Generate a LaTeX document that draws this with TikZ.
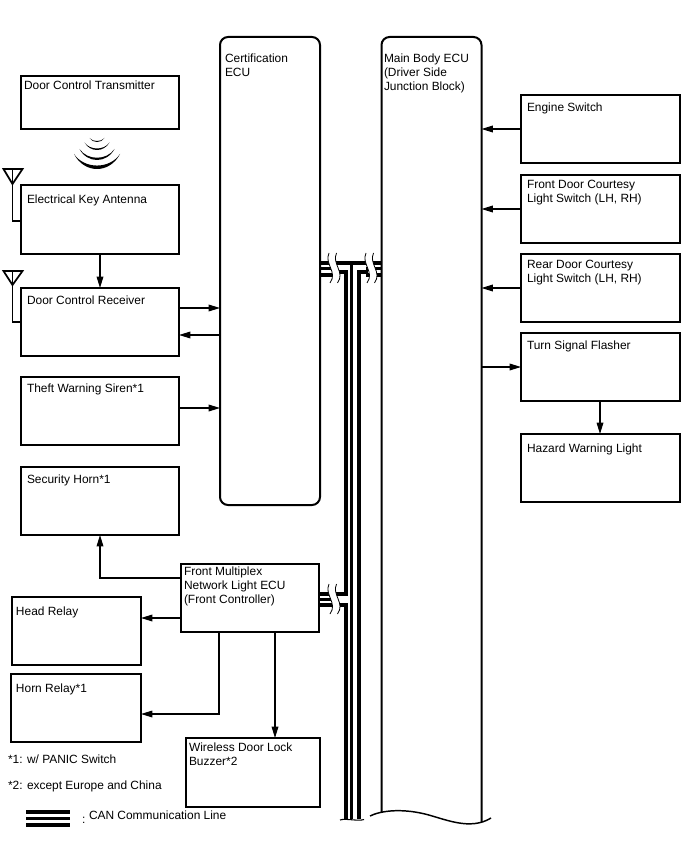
\documentclass[tikz,border=0pt]{standalone}
\usepackage{fontspec}
\setmainfont{Liberation Sans}
\usetikzlibrary{arrows.meta}
\def\pxu{0.75pt}
\tikzset{
  panel/.style={draw=black,line width=1.5pt,fill=white,rectangle,inner sep=0pt,outer sep=0pt,anchor=north west},
  tag/.style={inner sep=0pt,outer sep=0pt,anchor=north west,align=left,yshift=-1.5pt,font=\fontsize{8.95pt}{10.6pt}\selectfont},
  link/.style={line width=0.9pt,-{Triangle[length=8.5pt,width=5pt]}},
  can/.style={line width=3pt,line cap=butt,line join=miter},
  canthin/.style={line width=2pt,line cap=butt},
  aerial/.style={draw=black,line width=1.3pt,line join=miter}
}
% box: name, x0, y0, x1, y1, text x, text top y, text
\newcommand{\unitbox}[8]{%
  \node[panel,minimum width={(#4-#2)*\pxu},minimum height={(#5-#3)*\pxu}] (#1) at (#2,#3) {};
  \node[tag] (#1-t) at (#6,#7) {#8};
}
% paired wavy break across the bus at horizontal position x, vertical centre y
\newcommand{\busbreak}[2]{%
  \begin{scope}[shift={(#1,#2)}]
    \fill[white] (1,-15) .. controls (-4,-4) and (10,4) .. (2,15) -- (9.5,15) .. controls (17.5,4) and (3.5,-4) .. (8.5,-15) -- cycle;
    \draw[line width=0.6pt] (1,-15) .. controls (-4,-4) and (10,4) .. (2,15);
    \draw[line width=0.6pt] (8.5,-15) .. controls (3.5,-4) and (17.5,4) .. (9.5,15);
  \end{scope}
}
% crescent of the radio symbol: half width, bottom y, depth of ends, thickness
\newcommand{\crescent}[4]{%
  \fill[black] ({97-#1},{#2-#3}) .. controls ({97-#1*0.55},{#2+#3/3}) and ({97+#1*0.55},{#2+#3/3}) .. ({97+#1},{#2-#3})
     .. controls ({97+#1*0.55},{#2-#4+#3/3}) and ({97-#1*0.55},{#2-#4+#3/3}) .. cycle;
}
\begin{document}
\begin{tikzpicture}[x=0.75pt,y=-0.75pt]
\useasboundingbox (0,0) rectangle (688,852);
\fill[white] (0,0) rectangle (688,852);

% CAN bus, upper run and trunk
\draw[can] (320,262.8) -- (381,262.8);
\draw[can] (320,274.6) -- (336,274.6);
\draw[can] (366,274.6) -- (381,274.6);
\draw[canthin] (320,268.8) -- (336,268.8);
\draw[canthin] (366,268.8) -- (381,268.8);
\draw[can] (334,271.5) -- (346,271.5) -- (346,592);
\draw[can] (368,271.5) -- (359.3,271.5) -- (359.3,819);
\draw[line width=2.2pt] (351.7,263) -- (351.7,819);
\draw[can,line width=3.6pt] (346,604) -- (346,819);
\busbreak{328}{268}
\busbreak{365}{268}

% CAN bus, branch to the front controller
\draw[can] (320,593.8) -- (347.5,593.8);
\draw[canthin] (320,599.5) -- (336,599.5);
\draw[can] (320,605.2) -- (347.5,605.2);
\busbreak{328}{599}
\draw[line width=0.8pt] (340,820) .. controls (345,818) and (358,821.5) .. (364,819.5);

% Large ECUs
\node[panel,rounded corners=6pt,minimum width={100*\pxu},minimum height={468*\pxu}] (cert) at (220,37) {};
\node[tag] (cert-t) at (225,52) {Certification\\ECU};
\node[inner sep=0pt,outer sep=0pt,anchor=north west,minimum width={100*\pxu},minimum height={783*\pxu}] (main) at (381.5,37) {};
\draw[line width=1.5pt,rounded corners=6pt] (381.5,812) -- (main.north west) -- (main.north east) -- (481.5,822);
\draw[line width=1.1pt] (370,816) .. controls (380,811) and (400,808) .. (425,814) .. controls (445,819) and (470,831) .. (491,818);
\node[tag] (main-t) at (384,52) {Main Body ECU\\(Driver Side\\Junction Block)};

% Left column
\unitbox{tx}{21}{76}{179}{129}{24}{79}{Door Control Transmitter}
\unitbox{ant}{21}{185}{179}{254}{27}{193}{Electrical Key Antenna}
\unitbox{rcv}{21}{288}{179}{356}{27}{294}{Door Control Receiver}
\unitbox{siren}{21}{377}{179}{445}{27}{382}{Theft Warning Siren*1}
\unitbox{shorn}{21}{467}{179}{535}{27}{473}{Security Horn*1}
\unitbox{head}{12}{597}{141}{665}{16}{605}{Head Relay}
\unitbox{hrelay}{11}{674}{141}{742}{16}{682}{Horn Relay*1}
\unitbox{fmn}{181}{564}{319}{632}{184}{565}{Front Multiplex\\Network Light ECU\\(Front Controller)}
\unitbox{buzz}{186}{738}{320}{807}{189}{741}{Wireless Door Lock\\Buzzer*2}

% Right column
\unitbox{eng}{521}{95}{680}{163}{527}{101}{Engine Switch}
\unitbox{fdoor}{521}{175}{680}{243}{527}{178}{Front Door Courtesy\\Light Switch (LH, RH)}
\unitbox{rdoor}{521}{254}{680}{322}{527}{258}{Rear Door Courtesy\\Light Switch (LH, RH)}
\unitbox{turn}{521}{333}{680}{401}{527}{339}{Turn Signal Flasher}
\unitbox{hazard}{521}{434}{680}{502}{527}{442}{Hazard Warning Light}

% Radio waves between transmitter and antenna
\crescent{23}{169}{15}{4.6}
\crescent{17.5}{160}{11}{3}
\crescent{12.5}{150}{7.5}{2}
\crescent{7.5}{142}{4}{1.3}

% Antennas
\draw[aerial] (3.5,169) -- (22.5,169) -- (12.5,184) -- cycle;
\draw[aerial] (12.5,169) -- (12.5,221) -- (ant.west |- 0,221);
\draw[aerial] (3.5,271) -- (22.5,271) -- (12.5,285) -- cycle;
\draw[aerial] (12.5,271) -- (12.5,322) -- (rcv.west |- 0,322);

% Signal connections
\draw[link] (ant.south -| 100,0) -- (rcv.north -| 100,0);
\draw[link] (rcv.east |- 0,308) -- (cert.west |- 0,308);
\draw[link] (cert.west |- 0,335) -- (rcv.east |- 0,335);
\draw[link] (siren.east |- 0,408) -- (cert.west |- 0,408);
\draw[link] (eng.west |- 0,129) -- (main.east |- 0,129);
\draw[link] (fdoor.west |- 0,209) -- (main.east |- 0,209);
\draw[link] (rdoor.west |- 0,288) -- (main.east |- 0,288);
\draw[link] (main.east |- 0,367) -- (turn.west |- 0,367);
\draw[link] (turn.south -| 600,0) -- (hazard.north -| 600,0);
\draw[link] (fmn.west |- 0,578) -- (100,578) -- (shorn.south -| 100,0);
\draw[link] (fmn.west |- 0,618) -- (head.east |- 0,618);
\draw[link] (fmn.south -| 219,0) -- (219,714) -- (hrelay.east |- 0,714);
\draw[link] (fmn.south -| 275,0) -- (buzz.north -| 275,0);

% Notes and legend
\node[tag] (note1) at (8,753) {*1: w/ PANIC Switch};
\node[tag] (note2) at (8,779) {*2: except Europe and China};
\coordinate (legl) at (26,812);
\coordinate (legr) at (70,812);
\draw[can] (legl) -- (legr);
\draw[canthin] ([yshift=-4.9pt]legl) -- ([yshift=-4.9pt]legr);
\draw[can] ([yshift=-9.8pt]legl) -- ([yshift=-9.8pt]legr);
\node[tag] (legc) at (82,815) {:};
\node[tag] (legt) at (89,809) {CAN Communication Line};
\end{tikzpicture}
\end{document}
